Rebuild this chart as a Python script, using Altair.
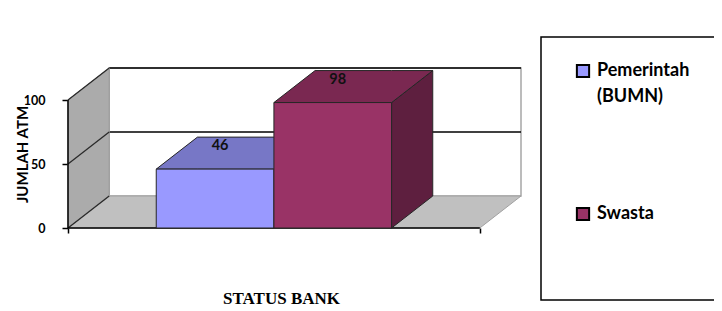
import altair as alt
import pandas as pd

# ---- data ----
categories = ["Pemerintah (BUMN)", "Swasta"]
values = [46, 98]
front_colors = ["#9999FF", "#993366"]
top_colors = ["#7777C6", "#7A2851"]
side_colors = ["#5F5FA0", "#5E1F3F"]
y_ticks = [0, 50, 100]
y_title = "JUMLAH ATM"
x_title = "STATUS BANK"

# ---- pseudo-3D geometry (scale units) ----
PLANE = 3.5      # width of front plane
LEAD = 0.75      # gap before the first bar
BAR_W = 1.0      # bar width
DX = 0.35        # depth offset along x
DY = 25          # depth offset along y
YMAX = 100

xs = alt.Scale(domain=[0, PLANE + DX], nice=False, zero=False)
ys = alt.Scale(domain=[0, YMAX + DY], nice=False, zero=True)

fronts = pd.DataFrame({
    "cat": categories,
    "v": values,
    "x0": [LEAD + i * BAR_W for i in range(len(values))],
    "x1": [LEAD + (i + 1) * BAR_W for i in range(len(values))],
})
fronts["xc"] = (fronts["x0"] + fronts["x1"]) / 2

top_rows, side_rows = [], []
for i, (c, v) in enumerate(zip(categories, values)):
    x0 = LEAD + i * BAR_W
    x1 = x0 + BAR_W
    for x, lo, hi in [(x0, v, v), (x0 + DX, v, v + DY), (x1, v, v + DY), (x1 + DX, v + DY, v + DY)]:
        top_rows.append({"cat": c, "x": x, "lo": lo, "hi": hi, "fc": top_colors[i]})
    for x, lo, hi in [(x1, 0, v), (x1 + DX, DY, v + DY)]:
        side_rows.append({"cat": c, "x": x, "lo": lo, "hi": hi, "fc": side_colors[i]})
tops = pd.DataFrame(top_rows)
sides = pd.DataFrame(side_rows)

floor = pd.DataFrame({"x": [0, DX, PLANE, PLANE + DX], "lo": [0, 0, 0, DY], "hi": [0, DY, DY, DY]})
wall = pd.DataFrame({"x": [0, DX], "lo": [0, DY], "hi": [YMAX, YMAX + DY]})
back = pd.DataFrame({"x": [DX], "x2": [PLANE + DX], "y": [DY], "y2": [YMAX + DY]})
grid = pd.DataFrame({"x": DX, "x2": PLANE + DX, "y": [t + DY for t in y_ticks[1:]]})
diag = pd.DataFrame({"x": 0.0, "x2": DX, "y": y_ticks, "y2": [t + DY for t in y_ticks]})
yaxis_line = pd.DataFrame({"x": [0.0], "y": [0], "y2": [YMAX]})
xaxis_line = pd.DataFrame({"x": [0.0], "x2": [PLANE], "y": [0]})

EDGE = "#262626"

y_axis = alt.Axis(values=y_ticks, domain=False, grid=False, ticks=True, tickSize=6,
                  tickColor="black", tickWidth=1.5, labelFont="Lato", labelFontWeight="bold",
                  labelFontSize=12.5, labelColor="black", labelPadding=17,
                  title=y_title, titleFont="Lato", titleFontWeight="bold", titleFontSize=15,
                  titleColor="black", titleX=-46, titleY=86, titleAngle=270,
                  titleAlign="center", titleBaseline="middle")
x_axis = alt.Axis(values=[0, PLANE], labels=False, domain=False, grid=False, tickSize=5,
                  tickColor="black", tickWidth=1.5, title=x_title,
                  titleFont="Liberation Serif", titleFontWeight="bold", titleFontSize=17,
                  titleColor="black", titleX=213, titleY=70, titleAlign="center",
                  titleBaseline="middle")


def X(field):
    return alt.X(field, scale=xs, axis=x_axis)


def Y(field):
    return alt.Y(field, scale=ys, axis=y_axis)


back_l = alt.Chart(back).mark_rect(fill="white", stroke="#A6A6A6", strokeWidth=1.5).encode(
    x=X("x:Q"), x2="x2", y=Y("y:Q"), y2="y2")

grid_l = alt.Chart(grid).mark_rule(color="black", strokeWidth=1.5).encode(
    x=X("x:Q"), x2="x2", y=Y("y:Q"))

wall_l = alt.Chart(wall).mark_area(fill="#ABABAB", stroke="#9A9A9A", strokeWidth=1).encode(
    x=X("x:Q"), y=Y("lo:Q"), y2="hi")

floor_l = alt.Chart(floor).mark_area(fill="#C0C0C0", stroke="#A0A0A0", strokeWidth=1).encode(
    x=X("x:Q"), y=Y("lo:Q"), y2="hi")

diag_l = alt.Chart(diag).mark_rule(color="#2A2A2A", strokeWidth=1.3).encode(
    x=X("x:Q"), x2="x2", y=Y("y:Q"), y2="y2")

yline_l = alt.Chart(yaxis_line).mark_rule(color="black", strokeWidth=1.5).encode(
    x=X("x:Q"), y=Y("y:Q"), y2="y2")

xline_l = alt.Chart(xaxis_line).mark_rule(color="black", strokeWidth=1.5).encode(
    x=X("x:Q"), x2="x2", y=Y("y:Q"))

sides_l = alt.Chart(sides).mark_area(stroke=EDGE, strokeWidth=1).encode(
    x=X("x:Q"), y=Y("lo:Q"), y2="hi",
    fill=alt.Fill("fc:N", scale=None), detail="cat:N")

tops_l = alt.Chart(tops).mark_area(stroke=EDGE, strokeWidth=1).encode(
    x=X("x:Q"), y=Y("lo:Q"), y2="hi",
    fill=alt.Fill("fc:N", scale=None), detail="cat:N")

legend = alt.Legend(
    orient="none", legendX=473, legendY=-31, title=None,
    symbolType="square", symbolSize=150, symbolStrokeColor="black", symbolStrokeWidth=2,
    symbolOffset=8, labelOffset=5,
    labelFont="Lato", labelFontWeight="bold", labelFontSize=18, labelColor="black",
    labelLimit=300,
    labelExpr="length(split(datum.label, ' ')) > 1 ? split(datum.label, ' ') : [datum.label, '', '']",
    rowPadding=97, padding=25, strokeColor="black",
)

fronts_l = alt.Chart(fronts).mark_rect(stroke=EDGE, strokeWidth=1).encode(
    x=X("x0:Q"), x2="x1", y=Y("v:Q"), y2=alt.datum(0),
    color=alt.Color("cat:N", scale=alt.Scale(domain=categories, range=front_colors),
                    sort=categories, legend=legend))

labels_l = alt.Chart(fronts).mark_text(font="Lato", fontWeight="bold", fontSize=14.5,
                                       color="#111111", dx=5, dy=-23, baseline="middle").encode(
    x=X("xc:Q"), y=Y("v:Q"), text="v:Q")

chart = alt.layer(back_l, grid_l, wall_l, floor_l, diag_l, yline_l, xline_l,
                  sides_l, tops_l, fronts_l, labels_l).properties(
    width=453, height=160,
    autosize=alt.AutoSizeParams(type="none"),
    padding={"left": 60, "top": 60, "right": 193, "bottom": 78},
    background="white",
).configure(style={"guide-label": {"lineHeight": 26}}).configure_view(
    stroke=None).configure_legend(strokeWidth=1.5)

chart.save("out.html", embed_options={"renderer": "svg", "actions": False})
